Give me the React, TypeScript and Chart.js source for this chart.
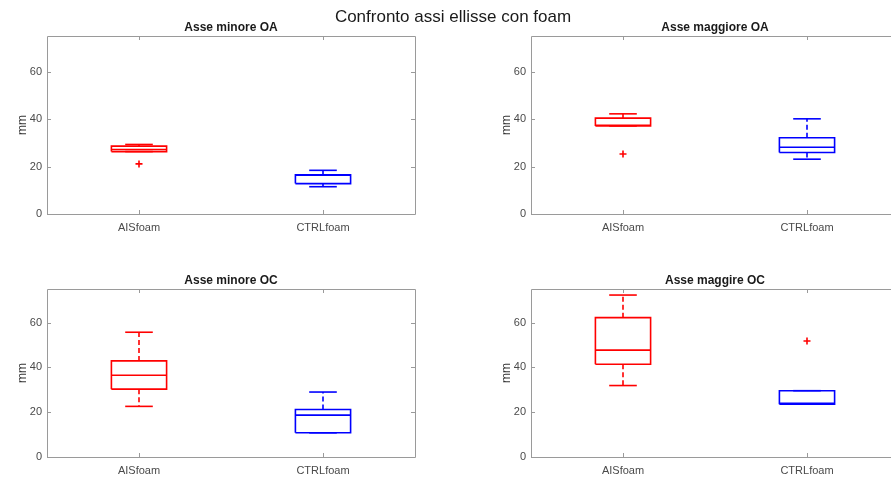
import React, { useEffect, useRef } from "react";
import { Chart, registerables } from "chart.js";

Chart.register(...registerables);

const categories = ["AISfoam", "CTRLfoam"];
const panelTitles = ["Asse minore OA", "Asse maggiore OA", "Asse minore OC", "Asse maggire OC"];
const mainTitle = "Confronto assi ellisse con foam";
const yTicks = [0, 20, 40, 60];
const yLabel = "mm";

// per panel: [AISfoam, CTRLfoam]
const whiskerLow = [[26.3, 11.5], [37.1, 23.1], [22.6, 10.8], [31.9, 23.6]];
const q1 = [[26.3, 12.8], [37.1, 25.9], [30.3, 10.8], [41.4, 23.6]];
const median = [[27.2, 16.3], [37.4, 28.1], [36.5, 18.7], [47.7, 24.0]];
const q3 = [[28.6, 16.5], [40.4, 32.1], [42.9, 21.2], [62.2, 29.6]];
const whiskerHigh = [[29.3, 18.4], [42.2, 40.1], [55.7, 29.0], [72.3, 29.6]];
const outliers = [[[21.1], []], [[25.3], []], [[], []], [[], [51.8]]];

const boxColors = ["#ff0000", "#0000ff"];
const outlierColor = "#ff0000";

const layouts = [
  { L: 47, T: 36, H: 178 },
  { L: 531, T: 36, H: 178 },
  { L: 47, T: 289, H: 168 },
  { L: 531, T: 289, H: 168 },
];
const PW = 368;
const LEFT = 47;
const TOP = 36;
const RIGHT = 20;
const BOTTOM = 26;
const FONT = "'Liberation Sans', Arial, Helvetica, sans-serif";

function buildDatasets(p: number) {
  const ds: any[] = [];
  const w = 0.15;
  const c = 0.075;
  categories.forEach((_, i) => {
    const x = i + 1;
    const col = boxColors[i];
    const line = (data: any[], dash: number[] = []) => ({
      type: "line",
      data,
      borderColor: col,
      borderWidth: 1.6,
      borderDash: dash,
      pointRadius: 0,
      fill: false,
      showLine: true,
      tension: 0,
    });
    ds.push(line([{ x, y: q3[p][i] }, { x, y: whiskerHigh[p][i] }], [5, 3]));
    ds.push(line([{ x, y: q1[p][i] }, { x, y: whiskerLow[p][i] }], [5, 3]));
    ds.push(line([{ x: x - c, y: whiskerHigh[p][i] }, { x: x + c, y: whiskerHigh[p][i] }]));
    ds.push(line([{ x: x - c, y: whiskerLow[p][i] }, { x: x + c, y: whiskerLow[p][i] }]));
    ds.push(
      line([
        { x: x - w, y: q1[p][i] },
        { x: x + w, y: q1[p][i] },
        { x: x + w, y: q3[p][i] },
        { x: x - w, y: q3[p][i] },
        { x: x - w, y: q1[p][i] },
      ])
    );
    ds.push(line([{ x: x - w, y: median[p][i] }, { x: x + w, y: median[p][i] }]));
    if (outliers[p][i].length) {
      ds.push({
        type: "scatter",
        data: outliers[p][i].map((v) => ({ x, y: v })),
        pointStyle: "cross",
        pointRadius: 3.5,
        borderColor: outlierColor,
        backgroundColor: outlierColor,
        pointBorderWidth: 1.6,
        borderWidth: 1.6,
        showLine: false,
      });
    }
  });
  return ds;
}

const framePlugin = {
  id: "frame",
  afterDraw(chart: any) {
    const { ctx, chartArea, scales } = chart;
    const { left, right, top, bottom } = chartArea;
    ctx.save();
    ctx.strokeStyle = "#9a9a9a";
    ctx.lineWidth = 1;
    ctx.beginPath();
    ctx.rect(Math.round(left) + 0.5, Math.round(top) + 0.5, Math.round(right - left), Math.round(bottom - top));
    ctx.stroke();
    ctx.beginPath();
    yTicks.forEach((v) => {
      const y = Math.round(scales.y.getPixelForValue(v)) + 0.5;
      ctx.moveTo(left, y);
      ctx.lineTo(left + 4, y);
      ctx.moveTo(right, y);
      ctx.lineTo(right - 4, y);
    });
    categories.forEach((_, i) => {
      const x = Math.round(scales.x.getPixelForValue(i + 1)) + 0.5;
      ctx.moveTo(x, top);
      ctx.lineTo(x, top + 4);
      ctx.moveTo(x, bottom);
      ctx.lineTo(x, bottom - 4);
    });
    ctx.stroke();
    const t = chart.options.plugins.frame?.title;
    if (t) {
      ctx.fillStyle = "#1a1a1a";
      ctx.font = `bold 12px ${FONT}`;
      ctx.textAlign = "center";
      ctx.textBaseline = "middle";
      ctx.fillText(t, (left + right) / 2, top - 8.5);
    }
    ctx.restore();
  },
};

function Panel({ p }: { p: number }) {
  const ref = useRef<HTMLCanvasElement>(null);
  const lay = layouts[p];
  const width = LEFT + PW + RIGHT;
  const height = TOP + lay.H + BOTTOM;
  useEffect(() => {
    if (!ref.current) return;
    const chart = new Chart(ref.current, {
      type: "scatter",
      data: { datasets: buildDatasets(p) },
      plugins: [framePlugin],
      options: {
        responsive: false,
        animation: false,
        events: [],
        layout: { padding: { top: TOP, right: RIGHT, left: 0, bottom: 0 } },
        plugins: {
          legend: { display: false },
          tooltip: { enabled: false },
          title: { display: false },
          frame: { title: panelTitles[p] },
        } as any,
        scales: {
          x: {
            type: "linear",
            min: 0.5,
            max: 2.5,
            position: "bottom",
            afterBuildTicks: (s: any) => {
              s.ticks = categories.map((_, i) => ({ value: i + 1 }));
            },
            afterFit: (s: any) => {
              s.height = BOTTOM;
            },
            grid: { display: false, drawTicks: false },
            border: { display: false },
            ticks: {
              callback: (v: any) => categories[Number(v) - 1] ?? "",
              padding: 7,
              maxRotation: 0,
              autoSkip: false,
              color: "#4a4a4a",
              font: { family: FONT, size: 11 },
            },
          },
          y: {
            type: "linear",
            min: 0,
            max: 75,
            afterBuildTicks: (s: any) => {
              s.ticks = yTicks.map((v) => ({ value: v }));
            },
            afterFit: (s: any) => {
              s.width = LEFT;
            },
            grid: { display: false, drawTicks: false },
            border: { display: false },
            ticks: {
              padding: 5,
              color: "#4a4a4a",
              font: { family: FONT, size: 11 },
            },
            title: {
              display: true,
              text: yLabel,
              color: "#333333",
              padding: { top: 15, bottom: 0 },
              font: { family: FONT, size: 12 },
            },
          },
        },
      } as any,
    });
    return () => chart.destroy();
  }, [p]);
  return (
    <canvas
      ref={ref}
      width={width}
      height={height}
      style={{
        position: "absolute",
        left: lay.L - LEFT,
        top: lay.T - TOP,
        width,
        height,
      }}
    />
  );
}

export default function App() {
  return (
    <div
      style={{
        position: "fixed",
        left: 0,
        top: 0,
        width: 891,
        height: 480,
        overflow: "hidden",
        background: "#ffffff",
      }}
    >
      {layouts.map((_, i) => (
        <Panel key={i} p={i} />
      ))}
      <div
        style={{
          position: "absolute",
          left: 253,
          top: 7,
          width: 400,
          textAlign: "center",
          font: `17px ${FONT}`,
          lineHeight: "20px",
          color: "#1a1a1a",
          zIndex: 2,
        }}
      >
        {mainTitle}
      </div>
    </div>
  );
}
